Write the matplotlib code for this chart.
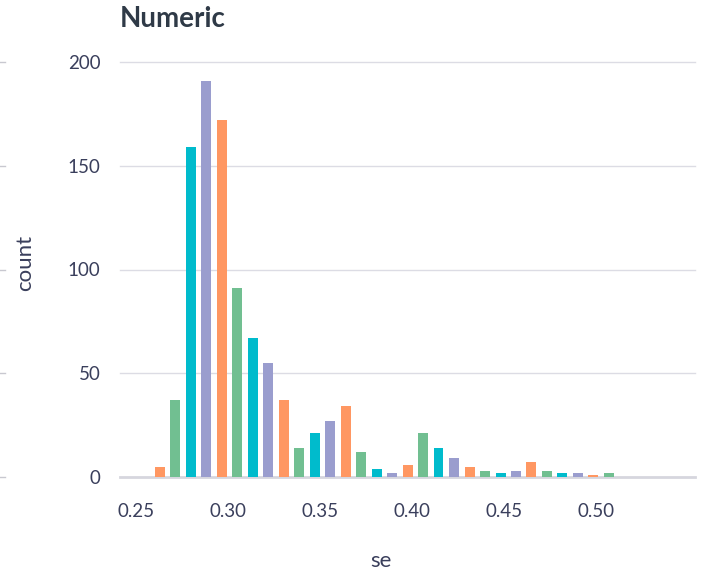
import numpy as np
import matplotlib
matplotlib.use("Agg")
import matplotlib.pyplot as plt
from matplotlib.lines import Line2D

# Histogram of "se" (bin centres)
bin_centers = [0.2630, 0.2714, 0.2798, 0.2882, 0.2967, 0.3051, 0.3135, 0.3219,
               0.3303, 0.3387, 0.3471, 0.3555, 0.3640, 0.3724, 0.3808, 0.3892,
               0.3976, 0.4060, 0.4144, 0.4228, 0.4313, 0.4397, 0.4481, 0.4565,
               0.4649, 0.4733, 0.4817, 0.4901, 0.4986, 0.5070]
counts = [5, 37, 159, 191, 172, 91, 67, 55, 37, 14, 21, 27, 34, 12, 4,
          2, 6, 21, 14, 9, 5, 3, 2, 3, 7, 3, 2, 2, 1, 2]
palette = ["#FF9762", "#71BF91", "#00BBCC", "#9A9DCE"]
x_ticks = [0.25, 0.30, 0.35, 0.40, 0.45, 0.50]
y_ticks = [0, 50, 100, 150, 200]

text_color = "#3a3f5c"
plt.rcParams['font.family'] = ['Lato', 'DejaVu Sans']

W, H = 704, 575
fig = plt.figure(figsize=(W / 100, H / 100), dpi=100)
ax = fig.add_axes([120 / W, 1 - 477 / H, 575 / W, 415 / H])

bar_colors = [palette[i % len(palette)] for i in range(len(counts))]
ax.bar(bin_centers, counts, width=0.00543, color=bar_colors, zorder=3)

ax.set_xlim(0.2413, 0.5538)
ax.set_ylim(0, 200)
ax.set_xticks(x_ticks)
ax.set_xticklabels([f"{t:.2f}" for t in x_ticks])
ax.set_yticks(y_ticks)
ax.set_yticklabels([str(t) for t in y_ticks])

for t in y_ticks:
    if t == 0:
        ax.axhline(t, color="#d6d6de", lw=2.0, zorder=1, clip_on=False)
    else:
        ax.axhline(t, color="#dcdce4", lw=1.0, zorder=1, clip_on=False)

for s in ax.spines.values():
    s.set_visible(False)
ax.tick_params(axis="both", length=0, labelsize=13.5, colors=text_color)
ax.tick_params(axis="y", pad=14)
ax.tick_params(axis="x", pad=19)

# small stubs on the left edge
for t in y_ticks:
    ypx = 477 - t * 415 / 200
    fig.add_artist(Line2D([0, 5 / W], [1 - ypx / H, 1 - ypx / H],
                          transform=fig.transFigure, color="#c8c8d0", lw=1))

fig.text(120 / W, 1 - 19 / H, "Numeric", fontsize=20, fontweight="bold",
         color="#2f3a47", ha="left", va="center")
fig.text(25 / W, 1 - 263 / H, "count", fontsize=16, color=text_color,
         rotation=90, ha="center", va="center")
fig.text(381 / W, 1 - 561 / H, "se", fontsize=16, color=text_color,
         ha="center", va="center")

fig.savefig("out.png", dpi=100)
